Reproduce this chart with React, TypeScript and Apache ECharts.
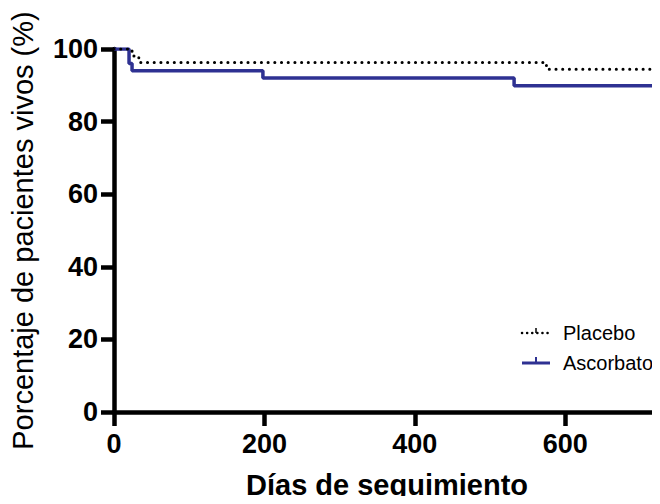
import React, { useEffect, useRef } from "react";
import * as echarts from "echarts";

// Kaplan–Meier survival steps: [day, % alive]
const ascorbatoDays = [0, 20, 24, 198, 532, 726];
const ascorbatoSurvival = [100, 96, 94, 92, 89.9, 89.9];
const placeboDays = [0, 24, 33, 575, 726];
const placeboSurvival = [100, 98.1, 96.3, 94.4, 94.4];

const xTicks = [0, 200, 400, 600];

const FONT = "'Liberation Sans', Arial, sans-serif";
const BLUE = "#2e3192";

const pairs = (xs: number[], ys: number[]) => xs.map((x, i) => [x, ys[i]]);

export default function App() {
  const ref = useRef<HTMLDivElement>(null);

  useEffect(() => {
    if (!ref.current) return;
    const chart = echarts.init(ref.current, undefined, { renderer: "svg" });
    chart.setOption({
      animation: false,
      backgroundColor: "#ffffff",
      grid: { left: 113, right: 0, top: 49, bottom: 89, containLabel: false },
      xAxis: {
        type: "value",
        min: 0,
        max: 726,
        interval: 200,
        name: "Días de seguimiento",
        nameLocation: "middle",
        nameGap: 58,
        nameTextStyle: { fontFamily: FONT, fontSize: 29, fontWeight: "bold", color: "#000" },
        axisLine: { show: true, onZero: false, lineStyle: { color: "#000", width: 4.5 } },
        axisTick: { show: true, length: 14, customValues: xTicks, lineStyle: { color: "#000", width: 4.5 } },
        axisLabel: {
          customValues: xTicks,
          fontFamily: FONT,
          fontSize: 27,
          fontWeight: "bold",
          color: "#000",
          margin: 18,
        },
        splitLine: { show: false },
      },
      yAxis: {
        type: "value",
        min: 0,
        max: 100,
        interval: 20,
        name: "Porcentaje de pacientes vivos (%)",
        nameLocation: "middle",
        nameGap: 77,
        nameTextStyle: { fontFamily: FONT, fontSize: 29, color: "#000" },
        axisLine: { show: true, onZero: false, lineStyle: { color: "#000", width: 4.5 } },
        axisTick: { show: true, length: 13, lineStyle: { color: "#000", width: 4.5 } },
        axisLabel: {
          fontFamily: FONT,
          fontSize: 27,
          fontWeight: "bold",
          color: "#000",
          margin: 16,
        },
        splitLine: { show: false },
      },
      series: [
        {
          name: "Ascorbato",
          type: "line",
          step: "end",
          showSymbol: false,
          z: 2,
          lineStyle: { color: BLUE, width: 3.5 },
          data: pairs(ascorbatoDays, ascorbatoSurvival),
        },
        {
          name: "Placebo",
          type: "line",
          step: "end",
          showSymbol: false,
          z: 3,
          lineStyle: { color: "#000", width: 3, type: [0.1, 6.6], cap: "round" },
          data: pairs(placeboDays, placeboSurvival),
        },
      ],
      graphic: [
        {
          type: "line",
          shape: { x1: 522, y1: 333, x2: 549, y2: 333 },
          style: { stroke: "#000", lineWidth: 2.5, lineDash: [0.1, 5], lineCap: "round" },
        },
        {
          type: "line",
          shape: { x1: 536, y1: 333, x2: 536, y2: 328 },
          style: { stroke: "#000", lineWidth: 1.5 },
        },
        {
          type: "text",
          x: 563,
          y: 333,
          style: { text: "Placebo", font: `20px ${FONT}`, fill: "#000", textVerticalAlign: "middle" },
        },
        {
          type: "line",
          shape: { x1: 522, y1: 363, x2: 550, y2: 363 },
          style: { stroke: BLUE, lineWidth: 3 },
        },
        {
          type: "line",
          shape: { x1: 536, y1: 363, x2: 536, y2: 357 },
          style: { stroke: BLUE, lineWidth: 2 },
        },
        {
          type: "text",
          x: 563,
          y: 363,
          style: { text: "Ascorbato", font: `20px ${FONT}`, fill: "#000", textVerticalAlign: "middle" },
        },
      ],
    });
    return () => chart.dispose();
  }, []);

  return <div ref={ref} style={{ width: 660, height: 504, margin: -8 }} />;
}
